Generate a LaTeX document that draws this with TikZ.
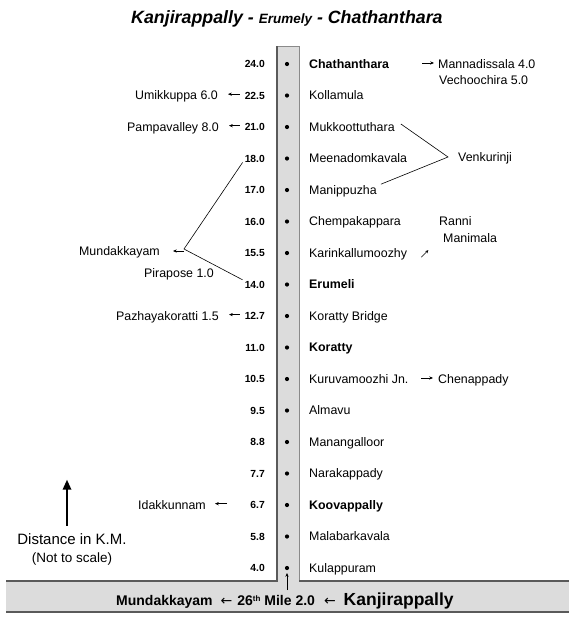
\documentclass[tikz,border=0pt]{standalone}
\usepackage{fontspec}
\setmainfont{Liberation Sans}
\newfontfamily\arrowfont{DejaVu Sans}
\usetikzlibrary{calc,arrows.meta}
\definecolor{roadfill}{HTML}{DCDCDC}
\definecolor{roadline}{HTML}{5A5A5A}
\definecolor{roadlinelight}{HTML}{8A8A8A}
\begin{document}
\begin{tikzpicture}[x=1pt,y=-1pt,
  num/.style={anchor=base east,inner sep=0pt,font=\bfseries\fontsize{10.3}{12}\selectfont},
  place/.style={anchor=base west,inner sep=0pt,font=\fontsize{12.4}{14}\selectfont},
  side/.style={anchor=base east,inner sep=0pt,font=\fontsize{12.4}{14}\selectfont},
  dotn/.style={circle,fill=black,inner sep=0pt,minimum size=4.2pt},
  tinyarr/.style={line width=0.55pt,-{Stealth[length=3.8pt,width=3.2pt]}},
  thinline/.style={line width=0.6pt},
  bigarr/.style={line width=1.7pt,-{Triangle[length=10pt,width=8.5pt]}},
]
\useasboundingbox (0,0) rectangle (575,622);
% road strips
\fill[roadfill] (277,46) rectangle (299,581);
\fill[roadfill] (6,581) rectangle (569,612);
\draw[roadlinelight,line width=0.6pt] (277,46) -- (299,46);
\draw[roadline,line width=1.4pt] (6,581) -- (277,581) -- (277,46);
\draw[roadlinelight,line width=1pt] (299,46) -- (299,581);
\draw[roadline,line width=1.2pt] (299,581) -- (569,581);
\draw[roadline,line width=1.4pt] (6,612) -- (569,612);

% title
\node[anchor=base west,inner sep=0pt,font=\bfseries\itshape\fontsize{17.8}{20}\selectfont] (title) at (131,23)
  {Kanjirappally - {\fontsize{13.5}{16}\selectfont Erumely} - Chathanthara};

% rows
\foreach \nm/\pl/\fb [count=\i from 0] in {
  24.0/Chathanthara/\bfseries,
  22.5/Kollamula/\relax,
  21.0/Mukkoottuthara/\relax,
  18.0/Meenadomkavala/\relax,
  17.0/Manippuzha/\relax,
  16.0/Chempakappara/\relax,
  15.5/Karinkallumoozhy/\relax,
  14.0/Erumeli/\bfseries,
  12.7/Koratty Bridge/\relax,
  11.0/Koratty/\bfseries,
  10.5/Kuruvamoozhi Jn./\relax,
  9.5/Almavu/\relax,
  8.8/Manangalloor/\relax,
  7.7/Narakappady/\relax,
  6.7/Koovappally/\bfseries,
  5.8/Malabarkavala/\relax,
  4.0/Kulappuram/\relax}
{
  \pgfmathsetmacro\yy{64+31.5*\i}
  \node[num] (n\i) at (265,\yy+3.7) {\nm};
  \node[dotn] (d\i) at (287,\yy) {};
  \node[place] (p\i) at (309,\yy+4.4) {\fb\pl};
}

% side places
\node[side] (umik) at (218,99.9) {Umikkuppa 6.0};
\node[side] (pamp) at (219,131.4) {Pampavalley 8.0};
\node[side] (pazh) at (219,320.4) {Pazhayakoratti 1.5};
\node[side] (idak) at (206,509.4) {Idakkunnam};
\node[side] (mund) at (160,255.4) {Mundakkayam};
\node[place] (pira) at (144,277.4) {Pirapose 1.0};
\node[place] (mann) at (438,68.4) {Mannadissala 4.0};
\node[place] (vech) at (439,84.4) {Vechoochira 5.0};
\node[place] (venk) at (458,161.4) {Venkurinji};
\node[place] (ranni) at (439,225.4) {Ranni};
\node[place] (mani) at (443,242.4) {Manimala};
\node[place] (chen) at (438,383.4) {Chenappady};

% left arrows
\draw[tinyarr] ($(n1.west)+(-5,-1.5)$) -- ($(umik.east |- n1.west)+(10,-1.5)$);
\draw[tinyarr] ($(n2.west)+(-5,-1.5)$) -- ($(pamp.east |- n2.west)+(10,-1.5)$);
\draw[tinyarr] ($(n8.west)+(-5,-1.5)$) -- ($(pazh.east |- n8.west)+(10,-1.5)$);
\draw[tinyarr] ($(idak.east |- n14.west)+(21,-1.5)$) -- ($(idak.east |- n14.west)+(9,-1.5)$);

% right arrows
\draw[tinyarr] ($(mann.west)+(-16,-1)$) -- ($(mann.west)+(-4,-1)$);
\draw[tinyarr] ($(chen.west |- p10.east)+(-17,-1)$) -- ($(chen.west |- p10.east)+(-5,-1)$);
\draw[line width=0.45pt,-{Stealth[length=3pt,width=3pt]}] ($(p6.east |- n6.east)+(14,4)$) -- +(7,-7);

% Venkurinji lines
\coordinate (vk) at (448,157);
\draw[thinline] ($(p2.east)+(6,-3)$) -- (vk) -- ($(p4.east)+(4,-7)$);

% Mundakkayam lines
\coordinate (mk) at (184,249);
\draw[thinline] ($(n3.south west)+(-2,0)$) -- (mk) -- ($(n7.north west)+(-2,-1)$);
\draw[tinyarr] ($(mk)+(0,2)$) -- ($(mund.east |- mk)+(13,2)$);

% distance legend
\node[anchor=base,inner sep=0pt,font=\fontsize{15}{17}\selectfont] (dist) at (72,544.4) {Distance in K.M.};
\node[anchor=base,inner sep=0pt,font=\fontsize{13.5}{16}\selectfont] (nts) at (72,562) {(Not to scale)};
\draw[bigarr] ($(dist.north)+(-5,-7.6)$) -- ($(dist.north)+(-5,-53.6)$);

% bottom road text
\node[anchor=base west,inner sep=0pt,font=\bfseries\fontsize{14}{16}\selectfont] (bot) at (116,605)
  {Mundakkayam\hspace{8pt}{\arrowfont\mdseries ←}\hspace{5pt}26\raisebox{4pt}{\fontsize{8}{9}\selectfont th} Mile 2.0\hspace{9pt}{\arrowfont\mdseries ←}\hspace{8pt}{\fontsize{17.5}{20}\selectfont Kanjirappally}};
\draw[tinyarr] ($(d16)+(0,22)$) -- ($(d16)+(0,5)$);
\end{tikzpicture}
\end{document}
